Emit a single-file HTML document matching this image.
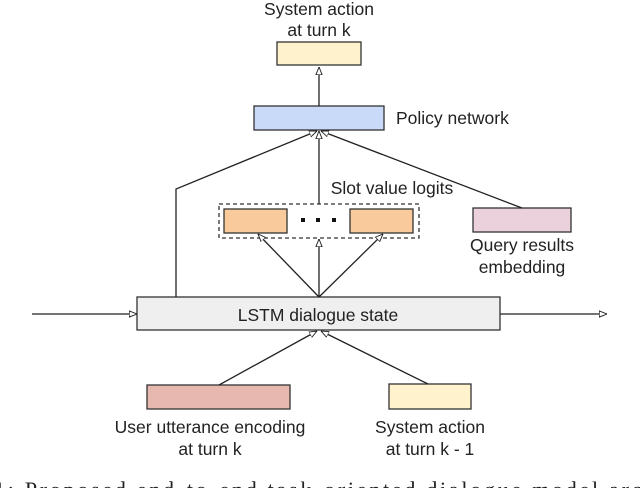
<!DOCTYPE html>
<html><head><style>
body{margin:0;background:#fff;}
svg{display:block;font-family:"Liberation Sans",sans-serif;}
</style></head><body>
<svg width="640" height="488" viewBox="0 0 640 488">
<defs><marker id="a" viewBox="0 0 10 10" refX="10" refY="5" markerWidth="6" markerHeight="6" orient="auto"><path d="M0,1 L10,5 L0,9 z" fill="#fff" stroke="#222" stroke-width="1.2"/></marker></defs>
<g stroke="#333" stroke-width="1.3">
<rect x="277" y="42" width="84" height="23" fill="#fff2cc"/>
<rect x="254" y="106" width="130" height="24" fill="#c9daf8"/>
<rect x="219" y="204" width="200" height="34" fill="none" stroke-dasharray="4,3"/>
<rect x="224" y="209" width="63" height="24" fill="#f9cb9c"/>
<rect x="350" y="209" width="63" height="24" fill="#f9cb9c"/>
<rect x="473" y="208" width="98" height="24" fill="#ead1dc"/>
<rect x="137" y="297" width="363" height="33" fill="#efefef"/>
<rect x="147" y="385" width="143" height="24" fill="#e6b8af"/>
<rect x="389" y="384" width="82" height="25" fill="#fff2cc"/>
</g>
<g font-size="17.5" fill="#222" text-anchor="middle">
<text x="319" y="15">System action</text>
<text x="319" y="36">at turn k</text>
<text x="396" y="124" text-anchor="start">Policy network</text>
<text x="392" y="194">Slot value logits</text>
<text x="522" y="251">Query results</text>
<text x="522" y="273">embedding</text>
<text x="318" y="321">LSTM dialogue state</text>
<text x="210" y="433">User utterance encoding</text>
<text x="210" y="455">at turn k</text>
<text x="430" y="433">System action</text>
<text x="430" y="455">at turn k - 1</text>
</g>
<g fill="#111"><rect x="301" y="218" width="4" height="4"/><rect x="316" y="218" width="4" height="4"/><rect x="332" y="218" width="4" height="4"/></g>
<g stroke="#222" stroke-width="1.3" fill="none" marker-end="url(#a)">
<line x1="319" y1="106" x2="319" y2="67"/>
<polyline points="176,297 176,189 317,131"/>
<line x1="319" y1="204" x2="319" y2="131"/>
<line x1="522" y1="208" x2="321" y2="131"/>
<line x1="319" y1="297" x2="258" y2="234"/>
<line x1="319" y1="297" x2="319" y2="239"/>
<line x1="319" y1="297" x2="383" y2="234"/>
<line x1="219" y1="385" x2="317" y2="331"/>
<line x1="428" y1="384" x2="321" y2="331"/>
<line x1="32" y1="314" x2="137" y2="314"/>
<line x1="500" y1="314" x2="607" y2="314"/>
</g>
<text x="-6" y="497" font-family="'Liberation Serif',serif" font-size="22" fill="#222" textLength="670" lengthAdjust="spacing">1:  Proposed end-to-end task-oriented dialogue model archi</text>
</svg>
</body></html>
